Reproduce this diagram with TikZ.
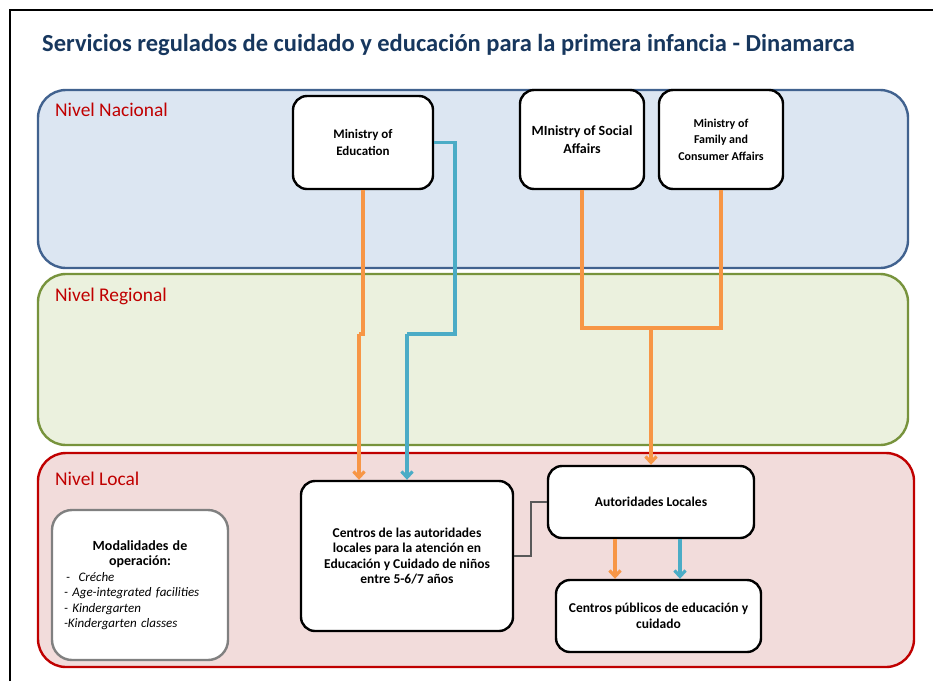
\documentclass[tikz,border=0pt]{standalone}
\usepackage{fontspec}
\setmainfont{Carlito}
\usetikzlibrary{arrows.meta}
\definecolor{navy}{HTML}{17375E}
\definecolor{lanered}{HTML}{C00000}
\definecolor{natfill}{HTML}{DCE6F2}
\definecolor{natdraw}{HTML}{41628F}
\definecolor{regfill}{HTML}{EBF1DE}
\definecolor{regdraw}{HTML}{77933C}
\definecolor{locfill}{HTML}{F2DCDB}
\definecolor{locdraw}{HTML}{C00000}
\definecolor{orangeline}{HTML}{F79646}
\definecolor{blueline}{HTML}{4BACC6}
\tikzset{
  lane/.style={line width=2.4pt, rounded corners=28pt},
  lanelabel/.style={anchor=west, text=lanered, font=\fontsize{19.4}{22}\selectfont, inner sep=0pt},
  box/.style={draw=black, fill=white, line width=2.4pt, rounded corners=14pt, align=center,
    font=\bfseries\fontsize{13.5}{15.5}\selectfont, inner sep=2pt},
  orarrow/.style={draw=orangeline, line width=3.2pt, -{Straight Barb[length=6pt,width=11pt]}},
  blarrow/.style={draw=blueline, line width=3.2pt, -{Straight Barb[length=6pt,width=11pt]}},
  orline/.style={draw=orangeline, line width=3.2pt},
  blline/.style={draw=blueline, line width=3.2pt},
  thinline/.style={draw=black!65, line width=1.2pt}
}
\begin{document}
\begin{tikzpicture}[x=1pt,y=-1pt]
\useasboundingbox (0,0) rectangle (933,681);
\fill[white] (0,0) rectangle (933,681);
% frame
\draw[line width=1.5pt] (10,681) -- (10,10) -- (933,10);
% title
\node[anchor=west, text=navy, font=\bfseries\fontsize{24.5}{28}\selectfont, inner sep=0pt] (title) at (42,45)
  {Servicios regulados de cuidado y educación para la primera infancia - Dinamarca};
% lanes
\draw[lane, draw=natdraw, fill=natfill] (38,90) rectangle (908,268);
\draw[lane, draw=regdraw, fill=regfill] (38,274) rectangle (908,445);
\draw[lane, draw=locdraw, fill=locfill] (38,453) rectangle (914,667);
\node[lanelabel] (lnat) at (55,110) {Nivel Nacional};
\node[lanelabel] (lreg) at (55,296) {Nivel Regional};
\node[lanelabel] (lloc) at (55,479) {Nivel Local};
% boxes
\node[box, minimum width=140pt, minimum height=93pt, font=\bfseries\fontsize{13}{17.5}\selectfont] (med) at (363,142.5) {Ministry of\\Education};
\node[box, minimum width=124pt, minimum height=99pt, font=\bfseries\fontsize{14}{18}\selectfont] (msoc) at (582,139.5) {MInistry of Social\\Affairs};
\node[box, minimum width=124pt, minimum height=99pt, font=\bfseries\fontsize{12}{16.5}\selectfont] (mfam) at (721,139.5) {Ministry of\\Family and\\Consumer Affairs};
\node[box, minimum width=212pt, minimum height=150pt] (cen) at (407,556) {Centros de las autoridades\\locales para la atención en\\Educación y Cuidado de niños\\entre 5-6/7 años};
\node[box, minimum width=206pt, minimum height=72pt] (aut) at (651,502) {Autoridades Locales};
\node[box, minimum width=205pt, minimum height=72pt, font=\bfseries\fontsize{13.5}{16}\selectfont] (pub) at (658.5,616) {Centros públicos de educación y\\cuidado};
\node[draw=black!50, fill=white, line width=2.4pt, rounded corners=20pt, minimum width=176pt, minimum height=150pt,
  text width=152pt, inner sep=0pt, font=\fontsize{13}{15.5}\selectfont] (mod) at (140,585)
  {\centering{\fontsize{14}{15.5}\selectfont\textbf{Modalidades de\\operación:}}\par
   \raggedright\itshape\hspace*{2pt}-\ \ Créche\\- Age-integrated facilities\\- Kindergarten\\-Kindergarten classes\par};
% connectors
\coordinate (oj1) at (363,334);
\coordinate (oj2) at (359,334);
\draw[orline] (med.south) -- (oj1) -- (oj2);
\draw[orarrow] (oj2) -- (cen.north -| oj2);
\coordinate (bj1) at (455,142.5);
\coordinate (bj2) at (455,334);
\coordinate (bj3) at (407,334);
\draw[blline] (med.east) -- (bj1) -- (bj2) -- (bj3);
\draw[blarrow] (bj3) -- (cen.north -| bj3);
\coordinate (tl) at (582,328);
\coordinate (tr) at (721,328);
\coordinate (tm) at (651,328);
\draw[orline] (msoc.south) -- (tl) -- (tr) -- (mfam.south);
\draw[orarrow] (tm) -- (aut.north);
\coordinate (gj1) at (531,556);
\coordinate (gj2) at (531,502);
\draw[thinline] (cen.east) -- (gj1) -- (gj2) -- (aut.west);
\draw[orarrow] (aut.south -| 615,0) -- (pub.north -| 615,0);
\draw[blarrow] (aut.south -| 680,0) -- (pub.north -| 680,0);
\end{tikzpicture}
\end{document}
